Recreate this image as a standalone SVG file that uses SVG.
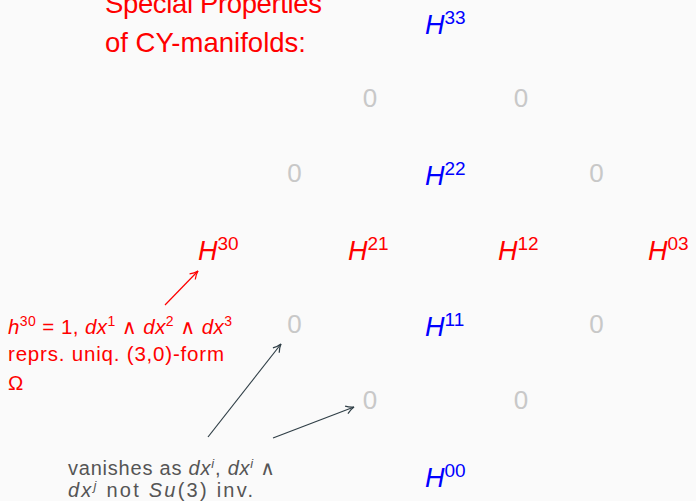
<svg xmlns="http://www.w3.org/2000/svg" width="696" height="501" viewBox="0 0 696 501">
<defs>
<style>
text{font-family:"Liberation Sans","DejaVu Sans",sans-serif}
.H{font-size:27px}
.sup{font-size:19px}
.blue{fill:#0000ff}
.red{fill:#ff0000}
.zero{font-size:26px;fill:#c8c8c8;text-anchor:middle}
.it{font-style:italic}
.title{font-size:27.5px;fill:#ff0000}
.note{font-size:20.5px;fill:#ff0000}
.gnote{font-size:20px;fill:#555555}
</style>
<marker id="ar" viewBox="0 0 10 10" refX="9" refY="5" markerWidth="10" markerHeight="10" markerUnits="userSpaceOnUse" orient="auto">
<path d="M1,1 Q5,4 9,5 Q5,6 1,9" fill="none" stroke="#ff0000" stroke-width="1.2"/>
</marker>
<marker id="ag" viewBox="0 0 10 10" refX="9" refY="5" markerWidth="10" markerHeight="10" markerUnits="userSpaceOnUse" orient="auto">
<path d="M1,1 Q5,4 9,5 Q5,6 1,9" fill="none" stroke="#2f3e46" stroke-width="1.2"/>
</marker>
</defs>
<rect width="696" height="501" fill="#fafafa"/>
<g id="title">
<text class="title" x="105" y="13" textLength="217" lengthAdjust="spacing">Special Properties</text>
<text class="title" x="105" y="52" textLength="201" lengthAdjust="spacing">of CY-manifolds:</text>
</g>
<g id="H33"><text class="H blue" x="425" y="34"><tspan class="it">H</tspan><tspan class="sup" dy="-10">33</tspan></text></g>
<g id="z20a"><text class="zero" x="370" y="107">0</text></g>
<g id="z02a"><text class="zero" x="521" y="107">0</text></g>
<g id="z31"><text class="zero" x="294.5" y="182">0</text></g>
<g id="H22"><text class="H blue" x="425" y="185"><tspan class="it">H</tspan><tspan class="sup" dy="-10">22</tspan></text></g>
<g id="z13"><text class="zero" x="596.5" y="182">0</text></g>
<g id="H30"><text class="H red" x="198" y="260"><tspan class="it">H</tspan><tspan class="sup" dy="-10">30</tspan></text></g>
<g id="H21"><text class="H red" x="348" y="260"><tspan class="it">H</tspan><tspan class="sup" dy="-10">21</tspan></text></g>
<g id="H12"><text class="H red" x="498" y="260"><tspan class="it">H</tspan><tspan class="sup" dy="-10">12</tspan></text></g>
<g id="H03"><text class="H red" x="648" y="260"><tspan class="it">H</tspan><tspan class="sup" dy="-10">03</tspan></text></g>
<g id="z20"><text class="zero" x="294.5" y="333">0</text></g>
<g id="H11"><text class="H blue" x="425" y="336"><tspan class="it">H</tspan><tspan class="sup" dy="-10">11</tspan></text></g>
<g id="z02"><text class="zero" x="596.5" y="333">0</text></g>
<g id="z10"><text class="zero" x="370" y="408.5">0</text></g>
<g id="z01"><text class="zero" x="521" y="408.5">0</text></g>
<g id="H00"><text class="H blue" x="425" y="487"><tspan class="it">H</tspan><tspan class="sup" dy="-10">00</tspan></text></g>
<g id="note-red">
<text class="note" x="8" y="334" textLength="224" lengthAdjust="spacing"><tspan class="it">h</tspan><tspan font-size="14" dy="-8">30</tspan><tspan dy="8"> = 1, </tspan><tspan class="it">dx</tspan><tspan font-size="14" dy="-8">1</tspan><tspan dy="8"> ∧ </tspan><tspan class="it">dx</tspan><tspan font-size="14" dy="-8">2</tspan><tspan dy="8"> ∧ </tspan><tspan class="it">dx</tspan><tspan font-size="14" dy="-8">3</tspan></text>
<text class="note" x="8" y="361" textLength="216" lengthAdjust="spacing">reprs. uniq. (3,0)-form</text>
<text class="note" x="8" y="390">Ω</text>
</g>
<g id="note-gray">
<text class="gnote" x="68" y="475" textLength="207" lengthAdjust="spacing">vanishes as <tspan class="it">dx</tspan><tspan font-size="13" dy="-7" class="it">i</tspan><tspan dy="7">, </tspan><tspan class="it">dx</tspan><tspan font-size="13" dy="-7" class="it">i</tspan><tspan dy="7"> ∧</tspan></text>
<text class="gnote" x="68" y="497" textLength="185" lengthAdjust="spacing"><tspan class="it">dx</tspan><tspan font-size="13" dy="-7" class="it">j</tspan><tspan dy="7"> not </tspan><tspan class="it">Su</tspan>(3) inv.</text>
</g>
<g id="connectors" fill="none" stroke-width="1.2">
<line x1="165" y1="305" x2="198" y2="271" stroke="#ff0000" marker-end="url(#ar)"/>
<line x1="208" y1="437" x2="281" y2="344" stroke="#2f3e46" marker-end="url(#ag)"/>
<line x1="273" y1="438" x2="354" y2="407" stroke="#2f3e46" marker-end="url(#ag)"/>
</g>
</svg>
